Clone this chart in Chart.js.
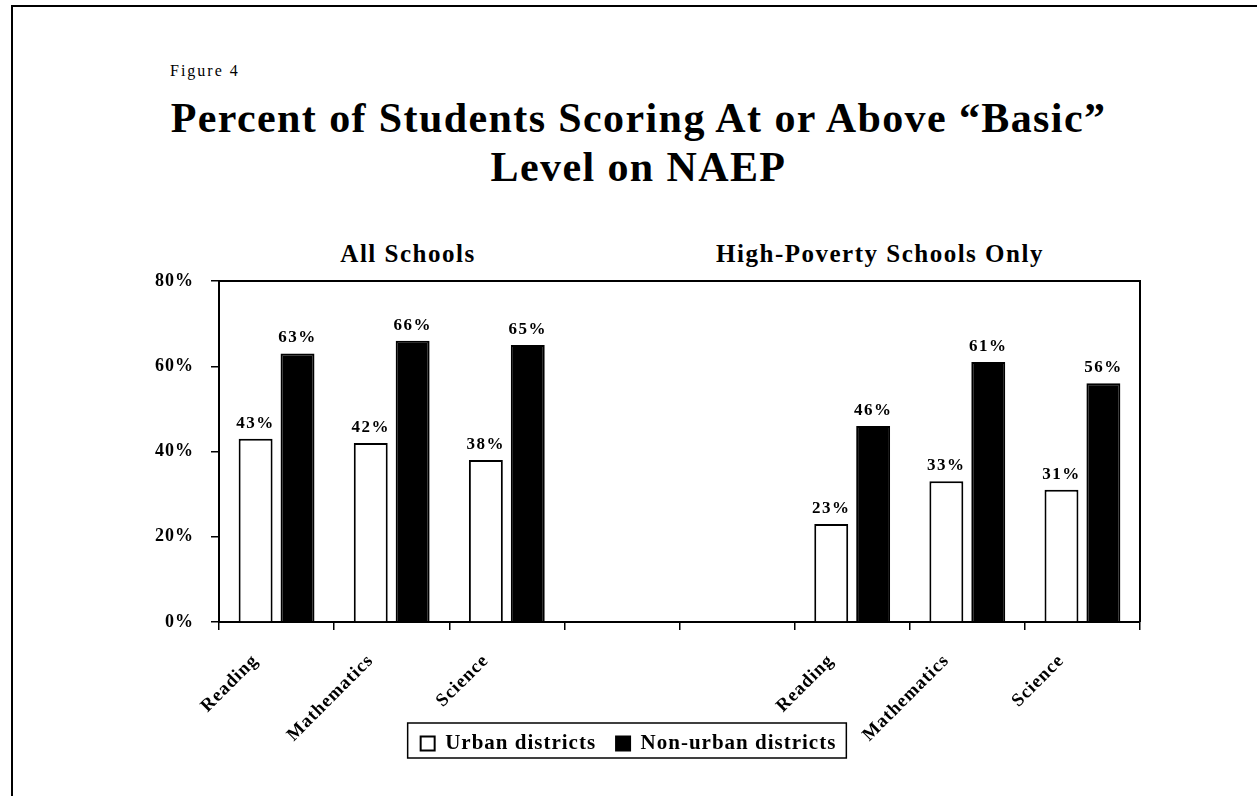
<!DOCTYPE html>
<html>
<head>
<meta charset="utf-8">
<script src="https://cdn.jsdelivr.net/npm/chart.js@4.4.1/dist/chart.umd.min.js"></script>
<style>
  body { margin: 0; background: #fff; }
  #wrap { position: relative; width: 1257px; height: 796px; overflow: hidden;
          font-family: "Liberation Serif", "Times New Roman", serif; color: #000; }
  #frame { position: absolute; left: 11px; top: 5px; width: 1300px; height: 900px;
           border-top: 2px solid #000; border-left: 2px solid #000; }
  canvas { position: absolute; left: 0; top: 0; }
  .fig { position: absolute; left: 170px; top: 63px; font-size: 16px; line-height: 16px; letter-spacing: 2px; }
  .title { position: absolute; left: 10px; width: 1257px; top: 94px; text-align: center;
           font-weight: bold; font-size: 42px; line-height: 49px; letter-spacing: 1.4px; }
  .panel { position: absolute; top: 241px; width: 400px; text-align: center;
           font-weight: bold; font-size: 25px; line-height: 25px; letter-spacing: 1.5px; }
</style>
</head>
<body>
<div id="wrap">
  <div id="frame"></div>
  <div class="fig">Figure 4</div>
  <div class="title">Percent of Students Scoring At or Above “Basic”<br>Level on NAEP</div>
  <div class="panel" style="left:208px">All Schools</div>
  <div class="panel" style="left:680px">High-Poverty Schools Only</div>
  <canvas id="chart" width="1257" height="796"></canvas>
</div>
<script>
// Chart data
const categories = ["Reading", "Mathematics", "Science", "", "", "Reading", "Mathematics", "Science"];
const urban = [43, 42, 38, null, null, 23, 33, 31];
const nonUrban = [63, 66, 65, null, null, 46, 61, 56];
const yMax = 80;
const yStep = 20;

const serif = '"Liberation Serif", "Times New Roman", serif';

// Canvas letter spacing (the original text is slightly spaced out)
const spacing = {
    id: "spacing",
    beforeLayout(chart) { chart.ctx.letterSpacing = "1px"; },
    beforeDraw(chart) { chart.ctx.letterSpacing = "1px"; }
};

// Pull the legend up into the space beside the rotated category labels
const legendShift = {
    id: "legendShift",
    afterLayout(chart) {
        chart.legend.top -= 32;
        chart.legend.bottom -= 32;
    }
};

// Value labels, plot frame and legend box
const extras = {
    id: "extras",
    afterDatasetsDraw(chart) {
        const ctx = chart.ctx;
        ctx.save();
        ctx.letterSpacing = "1.5px";
        ctx.font = "bold 17px " + serif;
        ctx.fillStyle = "#000";
        ctx.textAlign = "center";
        ctx.textBaseline = "alphabetic";
        chart.data.datasets.forEach((ds, i) => {
            chart.getDatasetMeta(i).data.forEach((bar, j) => {
                const v = ds.data[j];
                if (v == null) return;
                ctx.fillText(v + "%", bar.x, bar.y - 11);
            });
        });
        ctx.restore();
    },
    afterDraw(chart) {
        const ctx = chart.ctx;
        const a = chart.chartArea;
        ctx.save();
        ctx.strokeStyle = "#000";
        ctx.lineWidth = 2;
        ctx.beginPath();
        ctx.moveTo(a.left, a.top);
        ctx.lineTo(a.right, a.top);
        ctx.lineTo(a.right, a.bottom);
        ctx.stroke();

        const hb = chart.legend.legendHitBoxes;
        if (hb && hb.length) {
            const first = hb[0];
            const last = hb[hb.length - 1];
            ctx.lineWidth = 1.5;
            ctx.strokeRect(first.left - 13, first.top - 10,
                last.left + last.width - first.left + 23, first.height + 14);
        }
        ctx.restore();
    }
};

const ctx = document.getElementById("chart").getContext("2d");

const chart = new Chart(ctx, {
    type: "bar",
    data: {
        labels: categories,
        datasets: [{
            label: "Urban districts",
            data: urban,
            backgroundColor: "#fff",
            borderColor: "#000",
            borderWidth: 2,
            categoryPercentage: 0.728,
            barPercentage: 0.81
        }, {
            label: "Non-urban districts",
            data: nonUrban,
            backgroundColor: "#000",
            borderColor: "#000",
            borderWidth: 2,
            categoryPercentage: 0.728,
            barPercentage: 0.81
        }]
    },
    options: {
        responsive: false,
        animation: false,
        layout: { padding: { left: 117, right: 117, top: 281, bottom: 0 } },
        plugins: {
            legend: {
                position: "bottom",
                labels: {
                    boxWidth: 14,
                    boxHeight: 14,
                    padding: 20,
                    color: "#000",
                    font: { family: serif, size: 21, weight: "bold" }
                }
            },
            tooltip: { enabled: false }
        },
        scales: {
            x: {
                grid: { offset: true, drawOnChartArea: false, tickLength: 8, color: "#000", lineWidth: 1.5 },
                border: { color: "#000", width: 2 },
                ticks: {
                    autoSkip: false,
                    minRotation: 45,
                    maxRotation: 45,
                    labelOffset: -21,
                    padding: 20,
                    color: "#000",
                    font: { family: serif, size: 18.5, weight: "bold" }
                },
                afterFit(scale) { scale.height = 123; }
            },
            y: {
                min: 0,
                max: yMax,
                ticks: {
                    stepSize: yStep,
                    padding: 17,
                    color: "#000",
                    font: { family: serif, size: 18, weight: "bold" },
                    callback: v => v + "%"
                },
                grid: { drawOnChartArea: false, tickLength: 8, color: "#000", lineWidth: 1.5 },
                border: { color: "#000", width: 2 },
                afterFit(scale) { scale.width = 102; }
            }
        }
    },
    plugins: [spacing, legendShift, extras]
});
</script>
</body>
</html>
